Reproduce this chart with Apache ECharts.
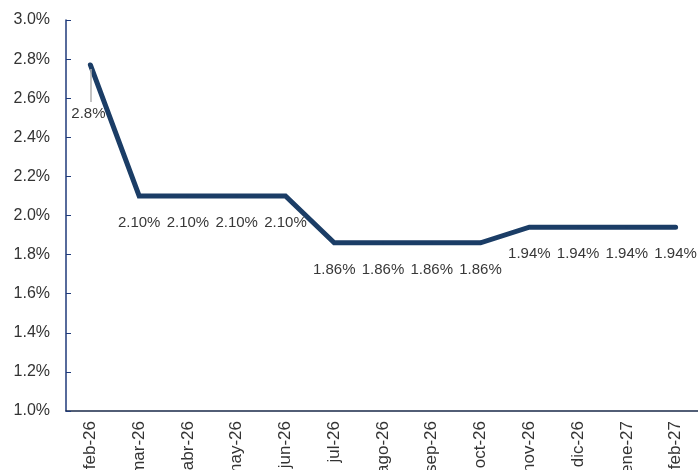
<!DOCTYPE html>
<html>
<head>
<meta charset="utf-8">
<script src="https://cdn.jsdelivr.net/npm/echarts@6/dist/echarts.min.js"></script>
<style>html,body{margin:0;padding:0;background:#fff}#c{width:698px;height:470px}</style>
</head>
<body>
<div id="c"></div>
<script>
var categories = ['feb-26','mar-26','abr-26','may-26','jun-26','jul-26','ago-26','sep-26','oct-26','nov-26','dic-26','ene-27','feb-27'];
var rates = [2.77, 2.10, 2.10, 2.10, 2.10, 1.86, 1.86, 1.86, 1.86, 1.94, 1.94, 1.94, 1.94];
var yTicks = [1.0, 1.2, 1.4, 1.6, 1.8, 2.0, 2.2, 2.4, 2.6, 2.8, 3.0];
var leaderLine = [2.75, 2.58];

var chart = echarts.init(document.getElementById('c'));
var font = 'Liberation Sans, Arial, sans-serif';
chart.setOption({
  animation: false,
  grid: { left: 66, right: -2, top: 20, bottom: 59, containLabel: false, outerBoundsMode: 'none' },
  xAxis: {
    type: 'category',
    data: categories,
    boundaryGap: true,
    axisLine: { lineStyle: { color: '#1a2a4a', width: 1.5 } },
    axisTick: { inside: true, length: 5, lineStyle: { color: '#1a2a4a' } },
    axisLabel: { rotate: 90, margin: 10, color: '#333', fontSize: 17, fontFamily: font },
    splitLine: { show: false }
  },
  yAxis: {
    type: 'value',
    min: yTicks[0],
    max: yTicks[yTicks.length - 1],
    interval: 0.2,
    axisLine: { show: true, lineStyle: { color: '#1f3a7a', width: 1.5 } },
    axisTick: { show: true, inside: true, length: 5, lineStyle: { color: '#1f3a7a' } },
    axisLabel: { color: '#333', fontSize: 16, fontFamily: font, margin: 16,
      formatter: function (v) { return v.toFixed(1) + '%'; } },
    splitLine: { show: false }
  },
  series: [{
    type: 'line',
    data: rates.map(function (v, i) {
      if (i === 0) {
        return {
          value: v,
          label: { distance: 40, offset: [-2, 0],
            formatter: function (p) { return p.value.toFixed(1) + '%'; } }
        };
      }
      return v;
    }),
    symbol: 'circle',
    symbolSize: 2,
    itemStyle: { color: '#1b3d66' },
    lineStyle: { color: '#1b3d66', width: 5, cap: 'round', join: 'miter' },
    label: {
      show: true,
      position: 'bottom',
      distance: 18,
      color: '#383838',
      fontSize: 15,
      fontFamily: font,
      formatter: function (p) { return p.value.toFixed(2) + '%'; }
    },
    markLine: {
      silent: true,
      symbol: 'none',
      label: { show: false },
      lineStyle: { color: '#b0b0b0', width: 1.5, type: 'solid' },
      data: [[{ coord: [categories[0], leaderLine[0]] }, { coord: [categories[0], leaderLine[1]] }]]
    }
  }]
});
</script>
</body>
</html>
